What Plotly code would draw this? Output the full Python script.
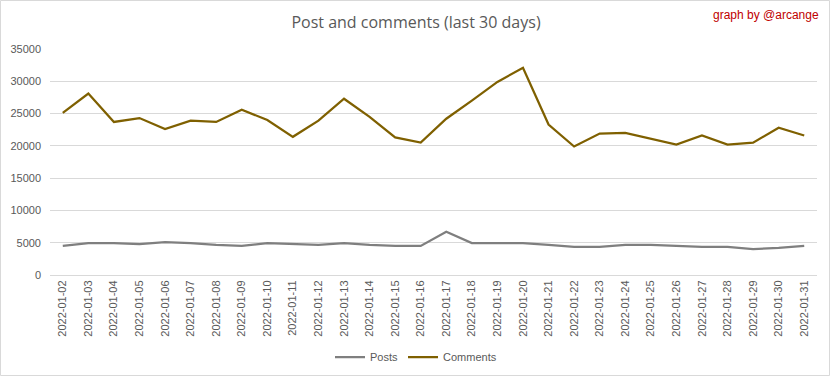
import plotly.graph_objects as go

dates = ["2022-01-%02d" % d for d in range(2, 32)]
posts = [4500, 4950, 4950, 4800, 5100, 4950, 4650, 4500, 4950, 4800,
         4650, 4950, 4650, 4500, 4500, 6700, 4950, 4950, 4950, 4650,
         4350, 4350, 4650, 4650, 4500, 4350, 4350, 4000, 4200, 4500]
comments = [25100, 28100, 23700, 24300, 22600, 23900, 23700, 25600, 24000, 21400,
            23900, 27300, 24500, 21300, 20500, 24200, 27000, 29900, 32100, 23300,
            19900, 21900, 22000, 21100, 20200, 21600, 20200, 20500, 22800, 21600]
y_ticks = [0, 5000, 10000, 15000, 20000, 25000, 30000, 35000]

W, H = 832, 378
L, R, T, B = 50, 15, 49, 103
pw, ph = W - L - R, H - T - B

fig = go.Figure()
fig.add_trace(go.Scatter(x=dates, y=posts, name="Posts", mode="lines",
                         line=dict(color="#7f7f7f", width=2.25)))
fig.add_trace(go.Scatter(x=dates, y=comments, name="Comments", mode="lines",
                         line=dict(color="#7f6000", width=2.25)))

fig.update_layout(
    width=W, height=H,
    margin=dict(l=L, r=R, t=T, b=B, autoexpand=False),
    paper_bgcolor="white", plot_bgcolor="white",
    font=dict(family="Liberation Sans, Arial, sans-serif", size=11, color="#595959"),
    title=dict(text="Post and comments (last 30 days)", x=0.5, xref="container",
               xanchor="center", y=1 - 22 / H, yanchor="middle",
               font=dict(family="Open Sans, sans-serif", size=16, color="#595959")),
    showlegend=True,
    legend=dict(orientation="h", x=(416 - L) / pw, xanchor="center",
                y=-(357 - T - ph) / ph, yanchor="middle",
                font=dict(size=11, color="#595959"),
                itemwidth=30, bgcolor="rgba(0,0,0,0)"),
    xaxis=dict(type="category", range=[-0.5, len(dates) - 0.5], tickangle=-90,
               showgrid=False, showline=True, linecolor="#d9d9d9", linewidth=1,
               ticks="", tickfont=dict(size=11, color="#595959"), fixedrange=True,
               automargin=False),
    yaxis=dict(range=[0, 35000], tickvals=y_ticks, ticktext=[str(v) for v in y_ticks],
               showgrid=True, gridcolor="#d9d9d9", gridwidth=1, zeroline=False,
               showline=False, ticks="", ticklabelstandoff=8,
               tickfont=dict(size=11, color="#595959"), fixedrange=True,
               automargin=False),
    annotations=[dict(text="graph by @arcange", xref="paper", yref="paper",
                      x=(821 - L) / pw, y=1 + (T - 15) / ph, xanchor="right",
                      yanchor="middle", showarrow=False,
                      font=dict(family="Liberation Sans, Arial, sans-serif",
                                size=12, color="#c00000"))],
    shapes=[dict(type="rect", xref="paper", yref="paper",
                 x0=-(L - 0.5) / pw, x1=1 + (R - 2.5) / pw,
                 y0=-(B - 2.5) / ph, y1=1 + (T - 0.5) / ph,
                 line=dict(color="#d9d9d9", width=1), layer="below")],
)

fig.write_html("out.html", config={"displayModeBar": False},
               post_script="document.body.style.margin='0';"
                           "document.body.style.overflow='hidden';")
